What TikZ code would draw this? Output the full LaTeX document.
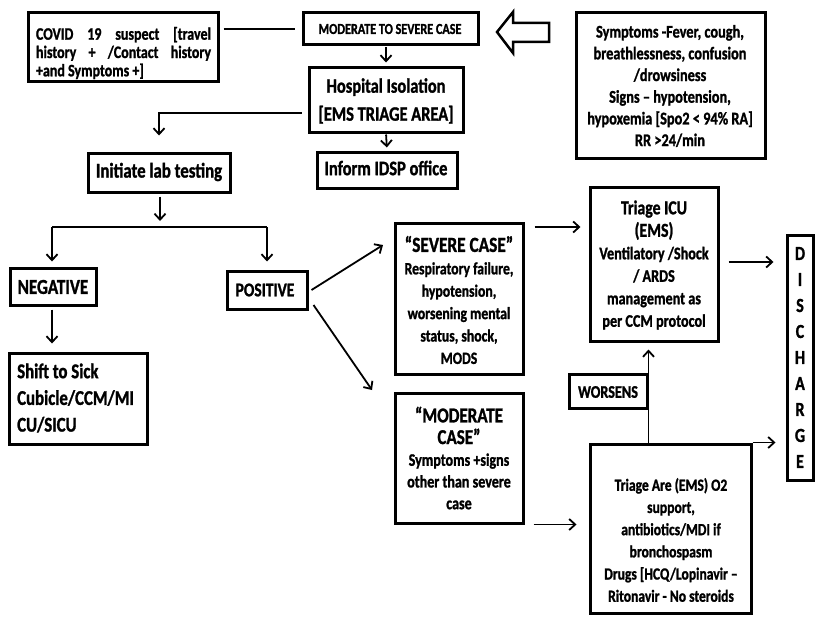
\documentclass[tikz,border=0pt]{standalone}
\usepackage{fontspec}
\setmainfont{Carlito}[FakeStretch=0.8,BoldFeatures={FakeBold=1.2}]
\usetikzlibrary{arrows.meta}
\newcommand{\fs}[2]{\fontsize{#1pt}{#2pt}\selectfont}
\begin{document}
\begin{tikzpicture}[x=1pt,y=-1pt,
  box/.style={draw=black,line width=3pt,fill=white,inner sep=0pt},
  txt/.style={inner sep=0pt,align=center,font=\bfseries},
  arr/.style={line width=1.8pt,-{Straight Barb[length=6pt,width=11pt,line width=1.8pt]}},
  ln/.style={line width=1.8pt}]
\useasboundingbox (0,0) rectangle (829,618);
\fill[white] (0,0) rectangle (829,618);
% boxes
\node[box,minimum width=190pt,minimum height=68pt] (covid) at (123,47) {};
\node[box,minimum width=175pt,minimum height=32pt] (mod) at (390.5,29) {};
\node[box,minimum width=154pt,minimum height=65pt] (hosp) at (386,99.5) {};
\node[box,minimum width=140pt,minimum height=36pt] (idsp) at (387,170) {};
\node[box,minimum width=189pt,minimum height=145pt] (symp) at (670.5,85.5) {};
\node[box,minimum width=142pt,minimum height=39pt] (lab) at (159,172.5) {};
\node[box,minimum width=86pt,minimum height=37pt] (neg) at (53,286.5) {};
\node[box,minimum width=138pt,minimum height=91pt] (shift) at (78,398.5) {};
\node[box,minimum width=80pt,minimum height=38pt] (pos) at (267,290) {};
\node[box,minimum width=128pt,minimum height=151pt] (severe) at (459,298.5) {};
\node[box,minimum width=128pt,minimum height=154pt] (icu) at (654,264) {};
\node[box,minimum width=26pt,minimum height=245pt] (disch) at (800,357.5) {};
\node[box,minimum width=78pt,minimum height=34pt] (wors) at (608,391) {};
\node[box,minimum width=128pt,minimum height=130pt] (modcase) at (459,458) {};
\node[box,minimum width=161pt,minimum height=169pt] (triage) at (670.5,528.5) {};
% texts
\node[txt,align=justify,text width=175pt,font=\bfseries\fs{17.5}{18.3}] (covidt) at (123.5,53) {\hyphenpenalty=10000 COVID 19 suspect [travel\linebreak history + /Contact history\linebreak +and Symptoms +]};
\node[txt,font=\bfseries\fs{15.2}{16}] (modt) at (390,29) {MODERATE TO SEVERE CASE};
\node[txt,font=\bfseries\fs{20.5}{28}] (hospt) at (386,101) {Hospital Isolation\\{[}EMS TRIAGE AREA{]}};
\node[txt,font=\bfseries\fs{20.6}{22}] (idspt) at (386,168) {Inform IDSP office};
\node[txt,font=\bfseries\fs{17.9}{21.7}] (sympt) at (670,86) {Symptoms -Fever, cough,\\breathlessness, confusion\\/drowsiness\\Signs -- hypotension,\\hypoxemia [Spo2 < 94\% RA]\\RR >24/min};
\node[txt,font=\bfseries\fs{21}{22}] (labt) at (159,172) {Initiate lab testing};
\node[txt,font=\bfseries\fs{21.3}{22}] (negt) at (53,287) {NEGATIVE};
\node[txt,align=left,anchor=west,font=\bfseries\fs{21}{26.7}] (shiftt) at (17,398) {Shift to Sick\\Cubicle/CCM/MI\\CU/SICU};
\node[txt,font=\bfseries\fs{19.4}{22}] (post) at (265,290) {POSITIVE};
\node[txt,font=\bfseries\fs{17.2}{22.4}] (severet) at (459,300) {{\fs{21.6}{22.4}“SEVERE CASE”}\\Respiratory failure,\\hypotension,\\worsening mental\\status, shock,\\MODS};
\node[txt,font=\bfseries\fs{17.75}{22.5}] (icut) at (654,265) {{\fs{19.75}{26}Triage ICU}\\{\fs{19.75}{26}(EMS)}\\Ventilatory /Shock\\/ ARDS\\management as\\per CCM protocol};
\node[txt,font=\bfseries\fs{20}{26}] (discht) at (800,357.5) {D\\I\\S\\C\\H\\A\\R\\G\\E};
\node[txt,font=\bfseries\fs{17.75}{20}] (worst) at (608,392) {WORSENS};
\node[txt,font=\bfseries\fs{17.6}{21.7}] (modcaset) at (459,458) {{\fs{21.25}{26}“MODERATE}\\{\fs{21.25}{26}CASE”}\\Symptoms +signs\\other than severe\\case};
\node[txt,font=\bfseries\fs{17}{22.2}] (triaget) at (671,540) {Triage Are (EMS) O2\\support,\\antibiotics/MDI if\\bronchospasm\\Drugs [HCQ/Lopinavir --\\Ritonavir - No steroids};
% block arrow
\draw[line width=2.5pt,fill=white,line join=miter] (497,32) -- (513,12) -- (513,23) -- (549,23) -- (549,42) -- (513,42) -- (513,53) -- cycle;
% connectors
\draw[ln] ([xshift=4pt]covid.east |- mod.west) -- ([xshift=-7pt]mod.west);
\draw[arr,shorten <=1pt,shorten >=3pt] (mod.south -| hosp.north) -- (hosp.north);
\draw[arr,shorten <=1pt,shorten >=3pt] (hosp.south) -- (idsp.north);
\coordinate (hl) at (159,113);
\draw[arr] ([xshift=-6pt]hosp.west |- hl) -- (hl) -- ([yshift=16pt]lab.north -| hl);
\coordinate (split) at (160,227);
\coordinate (splitl) at (52,227);
\coordinate (splitr) at (267,227);
\draw[arr] ([yshift=-3pt]lab.south -| split) -- ([yshift=6pt]split);
\draw[ln] (splitl) -- (splitr);
\draw[arr] (splitl) -- ([yshift=5pt]neg.north -| splitl);
\draw[arr] (splitr) -- ([yshift=8pt]pos.north -| splitr);
\draw[arr] ([yshift=-3pt]neg.south -| splitl) -- ([yshift=8pt]shift.north -| splitl);
\draw[arr] ([xshift=3pt]pos.east) -- (383,245);
\draw[arr] ([xshift=5pt,yshift=-15pt]pos.east) -- (372,390);
\draw[arr] ([xshift=10pt]severe.east |- 0,227) -- ([xshift=-8pt]icu.west |- 0,227);
\draw[arr] ([xshift=9pt]icu.east |- 0,262) -- ([xshift=-12pt]disch.west |- 0,262);
\draw[arr] ([xshift=9pt]modcase.south east) -- ([xshift=-12pt]triage.west |- modcase.south);
\draw[arr] (wors.east |- triage.north) -- ([yshift=-7pt]icu.south -| wors.east);
\draw[arr] (triage.north east) -- ([xshift=-10pt]disch.west |- triage.north);
\end{tikzpicture}
\end{document}
